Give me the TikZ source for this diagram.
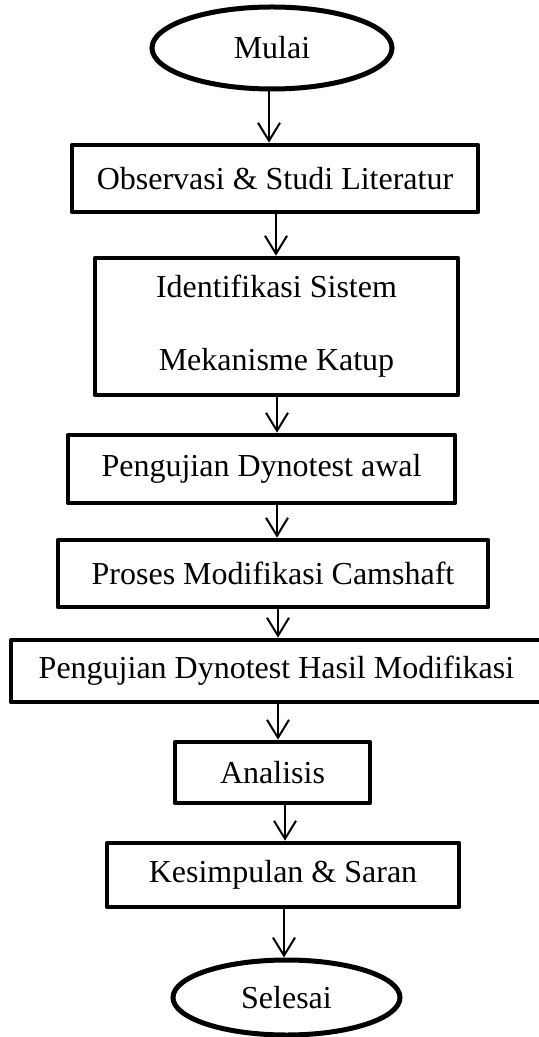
\documentclass[tikz,border=0pt]{standalone}
\usepackage{fontspec}
\setmainfont{Liberation Serif}
\usetikzlibrary{shapes.geometric,arrows.meta}
\begin{document}
\begin{tikzpicture}[x=0.5pt,y=-0.5pt,
  box/.style={draw,line width=2.3pt,rectangle,inner sep=0pt,line join=round,
    font=\fontsize{16}{19}\selectfont,align=center},
  term/.style={draw,line width=2.5pt,ellipse,inner sep=0pt,
    font=\fontsize{16}{19}\selectfont},
  arr/.style={line width=1pt,-{Straight Barb[length=9pt,width=11pt]}}]
\useasboundingbox (0,0) rectangle (538,1037);
\node[term,minimum width=120pt,minimum height=41pt] (mulai) at (272,48) {Mulai};
\node[box,minimum width=203pt,minimum height=33.5pt] (b1) at (275,178.5) {Observasi \& Studi Literatur};
\node[box,minimum width=181.5pt,minimum height=68.5pt,font=\fontsize{16}{36.5}\selectfont] (b2) at (276.5,326.5) {Identifikasi Sistem\\Mekanisme Katup};
\node[box,minimum width=193.5pt,minimum height=34pt] (b3) at (261.5,469) {Pengujian Dynotest awal};
\node[box,minimum width=215pt,minimum height=33.5pt] (b4) at (273,573.5) {Proses Modifikasi Camshaft};
\node[box,minimum width=265.5pt,minimum height=31pt] (b5) at (276.5,671) {Pengujian Dynotest Hasil Modifikasi};
\node[box,minimum width=97.5pt,minimum height=30.5pt] (b6) at (272.5,772.5) {Analisis};
\node[box,minimum width=176pt,minimum height=32pt] (b7) at (283,875) {Kesimpulan \& Saran};
\node[term,minimum width=113.5pt,minimum height=37.5pt] (selesai) at (286.5,997.5) {Selesai};
\draw[arr] (mulai.south -| 269,0) -- (b1.north -| 269,0);
\draw[arr] (b1.south -| 276,0) -- (b2.north -| 276,0);
\draw[arr] (b2.south -| 277,0) -- (b3.north -| 277,0);
\draw[arr] (b3.south -| 277,0) -- (b4.north -| 277,0);
\draw[arr] (b4.south -| 278,0) -- (b5.north -| 278,0);
\draw[arr] (b5.south -| 278,0) -- (b6.north -| 278,0);
\draw[arr] (b6.south -| 285,0) -- (b7.north -| 285,0);
\draw[arr] (b7.south -| 284,0) -- (selesai.north -| 284,0);
\end{tikzpicture}
\end{document}
